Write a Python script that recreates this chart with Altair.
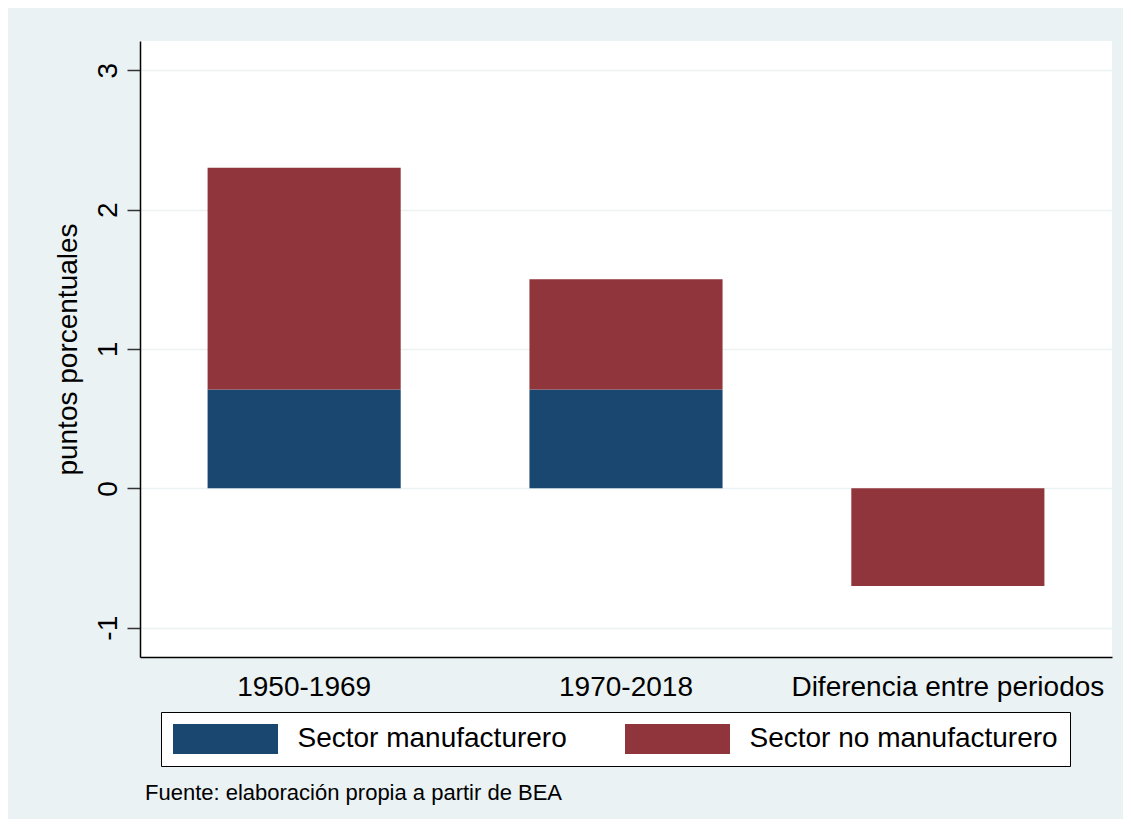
import altair as alt
import pandas as pd

categories = ["1950-1969", "1970-2018", "Diferencia entre periodos"]
series = ["Sector manufacturero", "Sector no manufacturero"]
manuf = [0.71, 0.71, 0.0]
no_manuf = [1.59, 0.79, -0.70]
y_ticks = [-1, 0, 1, 2, 3]
caption = "Fuente: elaboración propia a partir de BEA"
colors = ["#1a476f", "#90353b"]

FONT = "Liberation Sans"

rows = []
for i, c in enumerate(categories):
    rows.append({"periodo": c, "sector": series[0], "valor": manuf[i], "orden": 0})
    rows.append({"periodo": c, "sector": series[1], "valor": no_manuf[i], "orden": 1})
df = pd.DataFrame(rows)

bars = alt.Chart(df).mark_bar().encode(
    x=alt.X(
        "periodo:N",
        sort=categories,
        scale=alt.Scale(paddingInner=0.4, paddingOuter=0.21),
        axis=alt.Axis(
            title=None, labelAngle=0, labelFontSize=28, labelFont=FONT,
            labelColor="black", labelPadding=16, tickSize=0, ticks=False,
            labelLimit=500, domainColor="black", domainWidth=1.5, grid=False,
        ),
    ),
    y=alt.Y(
        "valor:Q",
        stack="zero",
        scale=alt.Scale(domain=[-1.21, 3.21], nice=False, zero=False),
        axis=alt.Axis(
            values=y_ticks, labelExpr="toString(datum.value)",
            title="puntos porcentuales", titleFontSize=28,
            titleFont=FONT, titleFontWeight="normal", titleColor="black",
            titlePadding=12, labelAngle=270, labelAlign="center",
            labelBaseline="bottom", labelFontSize=28, labelFont=FONT,
            labelColor="black", labelPadding=5, tickSize=13, tickColor="#333333",
            tickWidth=1.5, domainColor="black", domainWidth=1.5, grid=True,
            gridColor="#eaf2f3", gridWidth=1.5,
        ),
    ),
    color=alt.Color(
        "sector:N",
        scale=alt.Scale(domain=series, range=colors),
        legend=alt.Legend(
            title=None, orient="none", legendX=21, legendY=671,
            direction="horizontal", fillColor="white", strokeColor="black",
            padding=12, symbolType="M-3.5,-1H3.5V1H-3.5Z", symbolSize=900,
            symbolStrokeWidth=0, symbolOpacity=1, symbolOffset=37.5,
            labelOffset=57, labelFontSize=28, labelFont=FONT, labelColor="black",
            labelLimit=600, columnPadding=58,
        ),
    ),
    order=alt.Order("orden:Q"),
)

cap = alt.Chart(pd.DataFrame({"t": [caption]})).mark_text(
    align="left", baseline="middle", fontSize=22, font=FONT, color="black"
).encode(x=alt.value(5), y=alt.value(752), text="t:N")

chart = alt.layer(bars, cap).properties(
    width=972,
    height=616,
    autosize=alt.AutoSizeParams(type="none"),
    padding={"left": 132, "top": 33, "right": 11, "bottom": 162},
    background="#eaf2f3",
).configure_view(fill="white", stroke=None)

chart.save("out.html", embed_options={"renderer": "svg", "actions": False})
